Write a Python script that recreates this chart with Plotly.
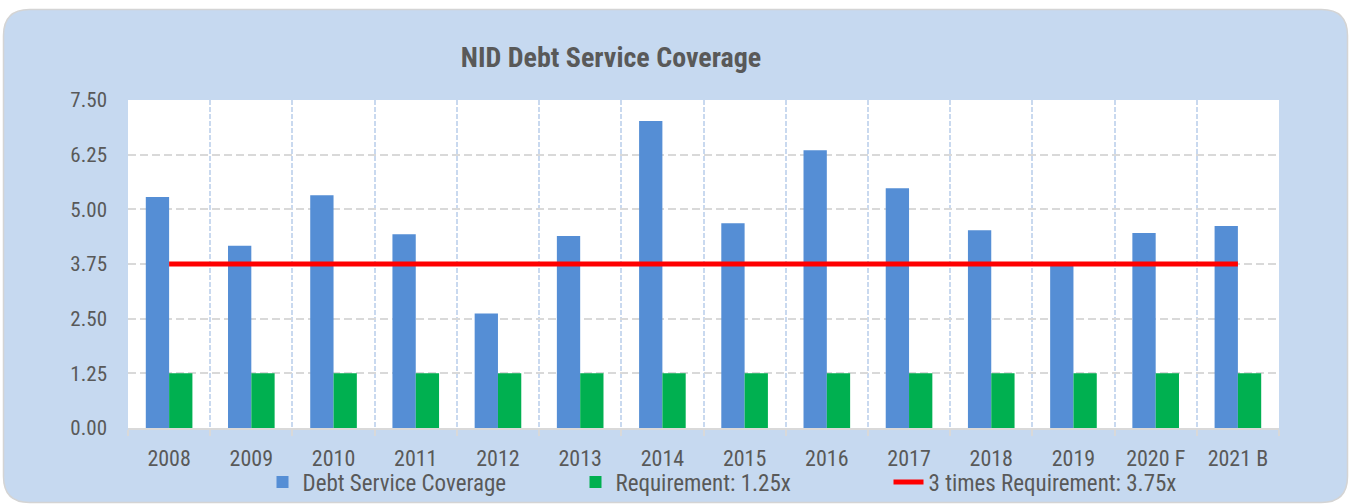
import plotly.graph_objects as go

categories = ["2008", "2009", "2010", "2011", "2012", "2013", "2014",
              "2015", "2016", "2017", "2018", "2019", "2020 F", "2021 B"]
coverage = [5.28, 4.17, 5.32, 4.43, 2.62, 4.39, 7.02, 4.68, 6.35, 5.48, 4.52, 3.72, 4.46, 4.62]
requirement = [1.25, 1.25, 1.25, 1.25, 1.25, 1.25, 1.25, 1.25, 1.25, 1.25, 1.25, 1.25, 1.25, 1.25]
three_times = [3.75, 3.75, 3.75, 3.75, 3.75, 3.75, 3.75, 3.75, 3.75, 3.75, 3.75, 3.75, 3.75, 3.75]
y_ticks = [0.0, 1.25, 2.5, 3.75, 5.0, 6.25, 7.5]

FONT = "Liberation Sans Narrow, Arial Narrow, Roboto Condensed, DejaVu Sans Condensed, sans-serif"
TXT = "#595959"

W, H = 1351, 504
L, R, T, B = 128, 1351 - 1279, 100, 504 - 428
pw, ph = W - L - R, H - T - B


def px(x):
    return (x - L) / pw


def py(y):
    return (H - B - y) / ph


def rounded_path(x0, y0, x1, y1, r):
    pts = []
    pts.append(f"M {px(x0 + r)},{py(y0)}")
    pts.append(f"L {px(x1 - r)},{py(y0)}")
    pts.append(f"Q {px(x1)},{py(y0)} {px(x1)},{py(y0 + r)}")
    pts.append(f"L {px(x1)},{py(y1 - r)}")
    pts.append(f"Q {px(x1)},{py(y1)} {px(x1 - r)},{py(y1)}")
    pts.append(f"L {px(x0 + r)},{py(y1)}")
    pts.append(f"Q {px(x0)},{py(y1)} {px(x0)},{py(y1 - r)}")
    pts.append(f"L {px(x0)},{py(y0 + r)}")
    pts.append(f"Q {px(x0)},{py(y0)} {px(x0 + r)},{py(y0)}")
    pts.append("Z")
    return " ".join(pts)


fig = go.Figure()
fig.add_trace(go.Bar(x=categories, y=coverage, name="Debt Service Coverage",
                     marker=dict(color="#558ed5", line=dict(width=0))))
fig.add_trace(go.Bar(x=categories, y=requirement, name="Requirement: 1.25x",
                     marker=dict(color="#00b050", line=dict(width=0))))
fig.add_trace(go.Scatter(x=categories, y=three_times, name="3 times Requirement: 3.75x",
                         mode="lines", line=dict(color="#ff0000", width=5)))

fig.update_layout(
    width=W, height=H,
    margin=dict(l=L, r=R, t=T, b=B, pad=0, autoexpand=False),
    paper_bgcolor="white",
    plot_bgcolor="rgba(0,0,0,0)",
    barmode="group", bargap=0.433, bargroupgap=0,
    font=dict(family=FONT, color=TXT, size=21),
    title=dict(text="<b>NID Debt Service Coverage</b>", x=611 / W, xanchor="center",
               y=1 - 57 / H, yanchor="middle", font=dict(size=28, color=TXT, family=FONT)),
    showlegend=True,
    legend=dict(orientation="h", xref="container", yref="container",
                x=732 / W, xanchor="center", y=1 - 482 / H, yanchor="middle",
                font=dict(size=23, color=TXT, family=FONT), bgcolor="rgba(0,0,0,0)",
                traceorder="normal", entrywidth=268),
    shapes=[
        dict(type="path", xref="paper", yref="paper", layer="below",
             path=rounded_path(3.5, 9.5, 1347.5, 502.5, 26),
             fillcolor="#c6d9f0", line=dict(color="#d4d4d4", width=1.5)),
        dict(type="rect", xref="paper", yref="paper", layer="below",
             x0=0, x1=1, y0=0, y1=1, fillcolor="white", line=dict(width=0)),
    ],
)

fig.update_xaxes(
    type="category", range=[-0.5, 13.5], tickson="boundaries",
    showgrid=True, gridcolor="#c9d9ef", gridwidth=1.5, griddash="5px,2px",
    showline=True, linecolor="#d9d9d9", linewidth=2,
    ticks="outside", ticklen=6, tickcolor="#d9d9d9", tickwidth=1.5,
    tickfont=dict(size=22, color=TXT, family=FONT), ticklabelstandoff=10,
    fixedrange=True,
)
fig.update_yaxes(
    range=[0, 7.5], tickvals=y_ticks, tickformat=".2f",
    showgrid=True, gridcolor="#d9d9d9", gridwidth=2, griddash="8px,4px",
    zeroline=False, showline=False, ticks="",
    tickfont=dict(size=21, color=TXT, family=FONT), ticklabelstandoff=20,
    fixedrange=True,
)

fig.write_html("out.html", config={"displayModeBar": False},
               post_script="document.body.style.margin='0';document.body.style.overflow='hidden';")
